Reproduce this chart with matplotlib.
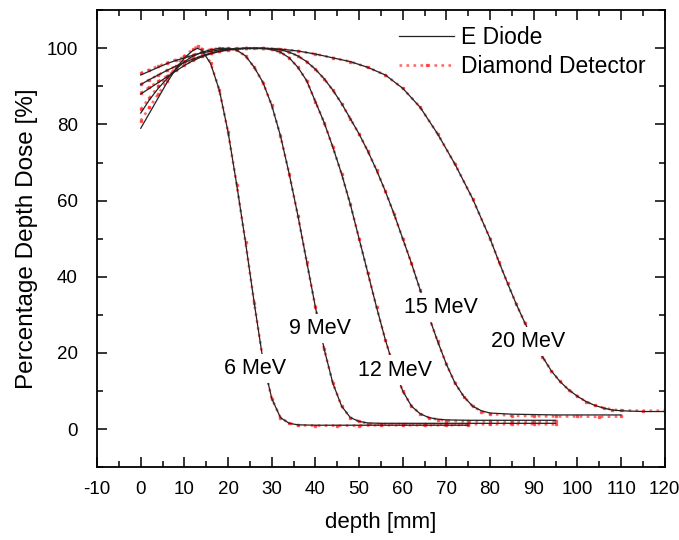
#!/usr/bin/env python3
"""Percentage depth dose curves: E Diode vs Diamond Detector, 6-20 MeV electrons."""
import matplotlib
matplotlib.use("Agg")
import matplotlib.pyplot as plt
from matplotlib.ticker import MultipleLocator

plt.rcParams["font.family"] = ["Liberation Sans", "DejaVu Sans"]
plt.rcParams["axes.unicode_minus"] = False

# 6 MeV
depth_6 = [0, 2, 4, 6, 8, 10, 12, 13, 14, 16, 18, 20, 22, 24, 26, 28, 30, 32, 34, 36,
           40, 45, 50, 55, 60, 65, 70, 75]
diode_6 = [79, 83, 87, 91, 94.5, 97.5, 99.5, 100, 99.5, 96, 89, 78, 64, 49, 33, 18, 8, 3,
           1.5, 1.1, 1.0, 1.0, 1.0, 1.0, 1.0, 1.0, 1.0, 1.0]
diamond_6 = [81, 84.5, 88, 91.5, 95, 98, 99.8, 100.5, 99.8, 96.2, 89, 78, 64, 49, 33, 18, 8,
             3, 1.5, 1.0, 0.9, 0.9, 0.9, 1.0, 1.0, 1.0, 1.0, 1.1]

# 9 MeV
depth_9 = [0, 2, 4, 6, 8, 10, 12, 14, 16, 18, 20, 22, 24, 26, 28, 30, 32, 34, 36, 38, 40,
           42, 44, 46, 48, 50, 52, 55, 60, 65, 70, 75, 80, 85, 90, 95]
diode_9 = [83, 86.5, 89.5, 92, 94.5, 96.5, 98, 99, 99.6, 100, 100, 99.5, 98, 95, 91, 85, 77,
           67, 56, 44, 32, 21, 12, 6, 3, 2, 1.6, 1.5, 1.5, 1.5, 1.5, 1.5, 1.5, 1.5, 1.5, 1.5]
diamond_9 = [84, 87, 90, 92.5, 94.8, 96.7, 98.1, 99.1, 99.7, 100, 100, 99.5, 98, 95, 91, 85,
             77, 67, 56, 44, 32, 21, 12, 6, 3, 2, 1.4, 1.3, 1.3, 1.2, 1.3, 1.3, 1.2, 1.3, 1.3, 1.2]

# 12 MeV
depth_12 = [0, 2, 4, 6, 8, 10, 12, 14, 16, 18, 20, 22, 24, 26, 28, 30, 32, 34, 36, 38, 40,
            42, 44, 46, 48, 50, 52, 54, 56, 58, 60, 62, 64, 66, 68, 70, 75, 80, 85, 90, 95]
diode_12 = [88, 89.5, 91, 92.5, 94, 95.5, 96.8, 97.8, 98.6, 99.2, 99.6, 99.9, 100, 100, 100,
            99.7, 99, 97.5, 95, 91.5, 86, 80.5, 74, 67, 59, 50, 41, 32, 23.5, 16, 10, 6, 4,
            3, 2.6, 2.4, 2.3, 2.3, 2.3, 2.3, 2.3]
diamond_12 = [88.3, 89.8, 91.3, 92.7, 94.2, 95.6, 96.9, 97.9, 98.7, 99.3, 99.7, 100, 100, 100,
              100, 99.7, 99, 97.5, 95, 91.5, 86, 80.5, 74, 67, 59, 50, 41, 32, 23.5, 16, 10, 6,
              4, 3, 2.5, 2.2, 2.0, 2.0, 1.9, 1.9, 2.0]

# 15 MeV
depth_15 = [0, 2, 4, 6, 8, 10, 12, 14, 16, 18, 20, 24, 28, 30, 32, 34, 36, 38, 40, 42, 44,
            46, 48, 50, 52, 54, 56, 58, 60, 62, 64, 66, 68, 70, 72, 74, 76, 78, 80, 85, 90,
            95, 100, 105, 110]
diode_15 = [90.5, 91.8, 93, 94.2, 95.3, 96.3, 97.2, 98, 98.7, 99.2, 99.6, 100, 100, 99.9,
            99.6, 99, 98, 96.5, 94.5, 92, 89, 85.5, 81.5, 77.5, 73, 68, 62.5, 56.5, 50, 43.5,
            36.5, 29.5, 23, 17, 12, 8.5, 6, 4.8, 4.2, 3.9, 3.8, 3.7, 3.7, 3.7, 3.7]
diamond_15 = [90.5, 91.8, 93, 94.2, 95.3, 96.3, 97.2, 98, 98.7, 99.2, 99.6, 100, 100, 99.9,
              99.6, 99, 98, 96.5, 94.5, 92, 89, 85.5, 81.5, 77.5, 73, 68, 62.5, 56.5, 50,
              43.5, 36.5, 29.5, 23, 17, 12, 8.5, 6, 4.6, 4.0, 3.5, 3.4, 3.3, 3.3, 3.2, 3.3]

# 20 MeV
depth_20 = [0, 2, 4, 6, 8, 10, 12, 14, 16, 18, 20, 24, 28, 32, 36, 40, 44, 48, 52, 56, 60,
            64, 68, 72, 76, 80, 82, 84, 86, 88, 90, 92, 94, 96, 98, 100, 102, 104, 106, 108,
            110, 115, 120]
diode_20 = [93, 94, 95, 96, 96.8, 97.5, 98.2, 98.8, 99.2, 99.6, 99.8, 100, 100, 99.8, 99.3,
            98.5, 97.5, 96.5, 95, 93, 89.5, 84.5, 77.5, 69.5, 60.5, 50, 44, 38.3, 32.8, 27.8,
            23, 19, 15.3, 12.5, 10.3, 8.6, 7.2, 6.2, 5.5, 5, 4.8, 4.6, 4.6]
diamond_20 = [93.5, 94.4, 95.3, 96.2, 97, 97.7, 98.3, 98.9, 99.3, 99.6, 99.8, 100, 100, 99.8,
              99.3, 98.5, 97.5, 96.5, 95, 93, 89.5, 84.5, 77.5, 69.5, 60.5, 50, 44, 38.3,
              32.8, 27.8, 23, 19, 15.3, 12.5, 10.3, 8.6, 7.2, 6.2, 5.6, 5.1, 4.9, 4.8, 4.8]

curves = [(depth_6, diode_6, diamond_6), (depth_9, diode_9, diamond_9),
          (depth_12, diode_12, diamond_12), (depth_15, diode_15, diamond_15),
          (depth_20, diode_20, diamond_20)]

energy_labels = ["6 MeV", "9 MeV", "12 MeV", "15 MeV", "20 MeV"]
label_pos = [(26.1, 16), (41, 26.5), (58.3, 15.5), (68.8, 32), (88.8, 23)]

fig = plt.figure(figsize=(6.79, 5.40), dpi=100)
ax = fig.add_axes([0.143, 0.135, 0.836, 0.846])

for i, (d, dio, dia) in enumerate(curves):
    ax.plot(d, dia, color="#ff2a2a", ls=":", lw=1.9, marker="s", ms=1.6,
            alpha=0.7, label="Diamond Detector" if i == 0 else None, zorder=2)
    ax.plot(d, dio, color="#222222", ls="-", lw=0.9,
            label="E Diode" if i == 0 else None, zorder=3)

for txt, (x, y) in zip(energy_labels, label_pos):
    ax.text(x, y, txt, fontsize=15.5, ha="center", va="center", zorder=5,
            bbox=dict(facecolor="white", edgecolor="none", pad=3))

ax.set_xlim(-10, 120)
ax.set_ylim(-10, 110)
ax.xaxis.set_major_locator(MultipleLocator(10))
ax.xaxis.set_minor_locator(MultipleLocator(5))
ax.yaxis.set_major_locator(MultipleLocator(20))
ax.yaxis.set_minor_locator(MultipleLocator(10))
ax.set_yticks([0, 20, 40, 60, 80, 100])
ax.tick_params(which="both", direction="in", top=True, right=True, labelsize=13.5,
               width=1.1)
ax.tick_params(which="major", length=7)
ax.tick_params(which="minor", length=4)
ax.tick_params(axis="x", pad=10)
ax.tick_params(axis="y", pad=14)
for s in ax.spines.values():
    s.set_linewidth(1.3)

ax.set_xlabel("depth [mm]", fontsize=16, labelpad=10)
ax.set_ylabel("Percentage Depth Dose [%]", fontsize=17.5, labelpad=6)

h, l = ax.get_legend_handles_labels()
order = [l.index("E Diode"), l.index("Diamond Detector")]
ax.legend([h[k] for k in order], [l[k] for k in order], loc="upper right",
          frameon=False, fontsize=16.5, handlelength=2.4, handletextpad=0.3,
          borderaxespad=0.3, bbox_to_anchor=(0.995, 1.0), labelspacing=0.25)

fig.savefig("out.png", dpi=100)
